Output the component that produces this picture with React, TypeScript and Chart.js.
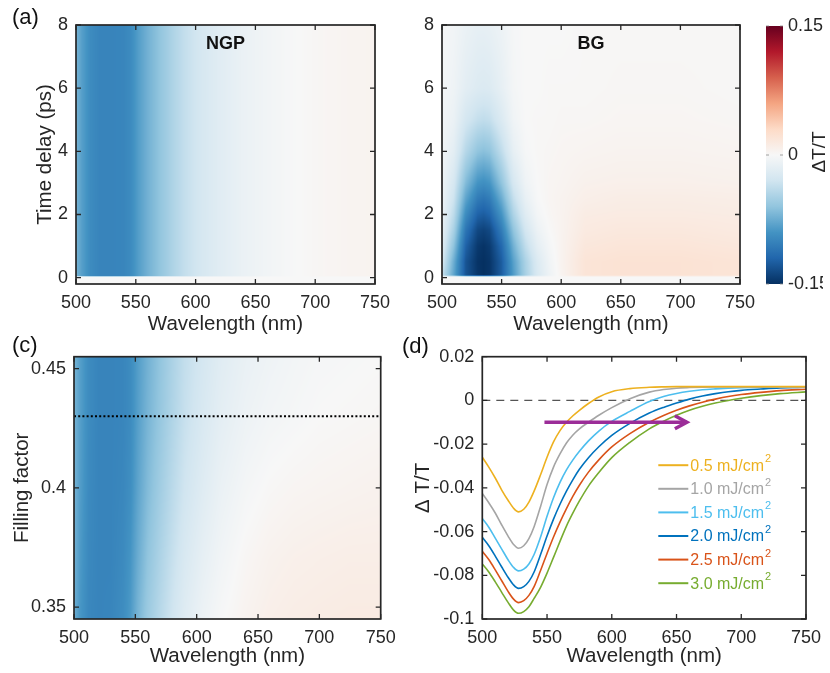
import React, { useEffect, useRef } from 'react';
import { Chart, registerables } from 'chart.js';

Chart.register(...registerables);

const W = 830;
const H = 673;
const FONT = "'Liberation Sans', Arial, Helvetica, sans-serif";
const INK = '#262626';

// ---------- colour scale (ΔT/T) ----------
const CMAP_COLORS = ['#053061', '#2166ac', '#4393c3', '#92c5de', '#d1e5f0', '#f7f7f7', '#fddbc7', '#f4a582', '#d6604d', '#b2182b', '#67001f'];
const C_MIN = -0.15;
const C_MAX = 0.15;
const CBAR_TICKS = [-0.15, 0, 0.15];

// ---------- (a) NGP map ----------
const NGP_WL = [500, 505, 512, 520, 530, 540, 546, 552, 560, 570, 580, 590, 605, 620, 640, 660, 680, 700, 725, 750];
const NGP_T = [0.02, 0.06, 8];
const NGP_EARLY = [0, 0, 0, 0, 0, 0, 0, 0, 0, 0, 0, 0, 0, 0, 0, 0, 0, 0, 0, 0];
const NGP_PROFILE = [-0.07, -0.083, -0.095, -0.1, -0.1, -0.099, -0.095, -0.084, -0.072, -0.06, -0.048, -0.037, -0.026, -0.018, -0.01, -0.005, -0.001, 0.002, 0.004, 0.005];
const NGP_ROWS = [NGP_EARLY, NGP_PROFILE, NGP_PROFILE];

// ---------- (b) BG map ----------
const BG_WL = [500, 510, 520, 530, 535, 540, 550, 560, 570, 580, 590, 600, 620, 650, 700, 750];
const BG_T = [0.02, 0.08, 0.5, 1, 1.5, 2, 2.5, 3, 4, 5, 6, 8];
const BG_ROWS = [
  [0, 0, 0, 0, 0, 0, 0, 0, 0, 0, 0, 0, 0, 0, 0, 0],
  [-0.035, -0.08, -0.13, -0.147, -0.15, -0.147, -0.125, -0.085, -0.05, -0.024, -0.008, 0.004, 0.02, 0.022, 0.022, 0.02],
  [-0.025, -0.075, -0.13, -0.148, -0.15, -0.147, -0.125, -0.082, -0.048, -0.022, -0.006, 0.005, 0.02, 0.022, 0.022, 0.02],
  [-0.018, -0.062, -0.122, -0.145, -0.148, -0.144, -0.118, -0.072, -0.038, -0.015, -0.003, 0.005, 0.017, 0.019, 0.019, 0.017],
  [-0.013, -0.05, -0.11, -0.137, -0.14, -0.136, -0.105, -0.06, -0.028, -0.009, 0.0, 0.005, 0.014, 0.016, 0.016, 0.014],
  [-0.01, -0.04, -0.095, -0.122, -0.125, -0.12, -0.09, -0.047, -0.019, -0.004, 0.002, 0.005, 0.012, 0.013, 0.013, 0.012],
  [-0.008, -0.032, -0.08, -0.106, -0.11, -0.105, -0.075, -0.036, -0.012, -0.001, 0.003, 0.005, 0.009, 0.011, 0.011, 0.01],
  [-0.007, -0.026, -0.066, -0.09, -0.093, -0.089, -0.06, -0.026, -0.007, 0.0, 0.003, 0.004, 0.007, 0.008, 0.008, 0.007],
  [-0.005, -0.016, -0.043, -0.06, -0.063, -0.06, -0.038, -0.013, -0.002, 0.001, 0.002, 0.003, 0.004, 0.005, 0.005, 0.004],
  [-0.004, -0.01, -0.027, -0.036, -0.038, -0.036, -0.022, -0.006, 0.0, 0.001, 0.001, 0.002, 0.002, 0.003, 0.003, 0.002],
  [-0.003, -0.007, -0.016, -0.021, -0.022, -0.021, -0.013, -0.003, 0.0, 0.0, 0.001, 0.001, 0.001, 0.002, 0.002, 0.001],
  [-0.002, -0.005, -0.01, -0.013, -0.013, -0.012, -0.008, -0.002, 0.0, 0.0, 0.0, 0.0, 0.001, 0.001, 0.001, 0.001],
];

// ---------- (c) filling-factor map ----------
const FF_WL = [500, 505, 512, 520, 530, 540, 546, 552, 560, 570, 580, 590, 605, 620, 640, 660, 680, 700, 725, 750];
const FF_LEVELS = [0.345, 0.37, 0.4, 0.43, 0.455];
const FF_ROWS = [
  [-0.074, -0.088, -0.098, -0.1, -0.099, -0.094, -0.086, -0.07, -0.055, -0.042, -0.03, -0.019, -0.008, -0.001, 0.005, 0.009, 0.011, 0.012, 0.013, 0.013],
  [-0.072, -0.086, -0.097, -0.1, -0.1, -0.096, -0.089, -0.075, -0.06, -0.047, -0.035, -0.024, -0.013, -0.005, 0.002, 0.006, 0.008, 0.009, 0.01, 0.01],
  [-0.07, -0.084, -0.096, -0.1, -0.1, -0.098, -0.093, -0.08, -0.066, -0.053, -0.041, -0.03, -0.019, -0.01, -0.003, 0.001, 0.003, 0.004, 0.005, 0.006],
  [-0.07, -0.083, -0.095, -0.1, -0.1, -0.099, -0.095, -0.083, -0.07, -0.058, -0.046, -0.035, -0.024, -0.015, -0.008, -0.004, -0.002, 0.0, 0.001, 0.002],
  [-0.07, -0.083, -0.095, -0.1, -0.1, -0.099, -0.095, -0.084, -0.072, -0.06, -0.048, -0.037, -0.027, -0.018, -0.011, -0.007, -0.004, -0.002, -0.001, 0.0],
];
const FF_MARK = 0.43;

// ---------- (d) spectra ----------
const D_WL = [500, 505, 510, 515, 520, 524, 528, 532, 536, 540, 545, 550, 555, 560, 565, 570, 575, 582, 590, 600, 614, 629, 640, 650, 660, 670, 680, 690, 700, 715, 730, 750];
const DT_05 = [-0.026, -0.0305, -0.0355, -0.041, -0.0458, -0.0492, -0.051, -0.0498, -0.0465, -0.0415, -0.034, -0.026, -0.019, -0.0138, -0.01, -0.007, -0.0045, -0.0014, 0.0016, 0.004, 0.0054, 0.006, 0.0062, 0.0063, 0.0063, 0.0063, 0.0063, 0.0063, 0.0063, 0.0063, 0.0063, 0.0063];
const DT_10 = [-0.0426, -0.0468, -0.0515, -0.057, -0.0622, -0.0658, -0.0676, -0.0665, -0.0632, -0.0578, -0.0485, -0.0385, -0.0305, -0.0245, -0.0195, -0.0158, -0.013, -0.01, -0.0068, -0.0033, 0.0008, 0.0038, 0.005, 0.0056, 0.0059, 0.0061, 0.0062, 0.0062, 0.0062, 0.0062, 0.0062, 0.0062];
const DT_15 = [-0.054, -0.058, -0.063, -0.068, -0.073, -0.0763, -0.078, -0.0772, -0.0748, -0.0705, -0.0625, -0.053, -0.0445, -0.0375, -0.0318, -0.0272, -0.0233, -0.0185, -0.014, -0.0096, -0.005, -0.0005, 0.0018, 0.0032, 0.0042, 0.0049, 0.0053, 0.0056, 0.0058, 0.006, 0.0061, 0.0062];
const DT_20 = [-0.0626, -0.0665, -0.0712, -0.0762, -0.081, -0.0843, -0.086, -0.0852, -0.0828, -0.0785, -0.0705, -0.062, -0.0543, -0.0475, -0.0415, -0.0362, -0.0315, -0.0262, -0.0212, -0.016, -0.0105, -0.0058, -0.0032, -0.0012, 0.0006, 0.002, 0.0031, 0.004, 0.0046, 0.0052, 0.0057, 0.006];
const DT_25 = [-0.069, -0.0728, -0.0775, -0.0825, -0.0875, -0.0908, -0.0925, -0.0916, -0.0892, -0.0852, -0.0778, -0.07, -0.0625, -0.0557, -0.0495, -0.0438, -0.0388, -0.0328, -0.0272, -0.0213, -0.0152, -0.01, -0.0069, -0.0045, -0.0025, -0.0008, 0.0006, 0.0018, 0.0027, 0.0037, 0.0045, 0.0051];
const DT_30 = [-0.0748, -0.0785, -0.083, -0.0878, -0.0925, -0.0958, -0.0974, -0.0966, -0.0944, -0.0906, -0.0855, -0.079, -0.0718, -0.0645, -0.0575, -0.0515, -0.046, -0.0392, -0.033, -0.0262, -0.0192, -0.013, -0.0095, -0.0068, -0.0045, -0.0027, -0.0012, 0.0, 0.001, 0.0022, 0.0031, 0.0039];
const D_SERIES = [DT_05, DT_10, DT_15, DT_20, DT_25, DT_30];
const D_LABELS = ['0.5 mJ/cm²', '1.0 mJ/cm²', '1.5 mJ/cm²', '2.0 mJ/cm²', '2.5 mJ/cm²', '3.0 mJ/cm²'];
const D_COLORS = ['#EDB120', '#A5A5A5', '#4DBEEE', '#0072BD', '#D95319', '#77AC30'];
const ARROW_FROM = 548;
const ARROW_TO = 658;
const ARROW_LEVEL = -0.01;

// ---------- helpers ----------
const hexRgb = (c: string) => {
  const n = parseInt(c.slice(1), 16);
  return [(n >> 16) & 255, (n >> 8) & 255, n & 255];
};
const CMAP_RGB = CMAP_COLORS.map(hexRgb);
function cmap(v: number) {
  let t = (v - C_MIN) / (C_MAX - C_MIN);
  t = Math.max(0, Math.min(1, t));
  const f = t * (CMAP_RGB.length - 1);
  const i = Math.min(CMAP_RGB.length - 2, Math.floor(f));
  const u = f - i;
  const a = CMAP_RGB[i];
  const b = CMAP_RGB[i + 1];
  return [a[0] + (b[0] - a[0]) * u, a[1] + (b[1] - a[1]) * u, a[2] + (b[2] - a[2]) * u];
}
function locate(arr: number[], v: number): [number, number] {
  const n = arr.length;
  if (v <= arr[0]) return [0, 0];
  if (v >= arr[n - 1]) return [n - 2, 1];
  let i = 0;
  while (i < n - 2 && v >= arr[i + 1]) i++;
  return [i, (v - arr[i]) / (arr[i + 1] - arr[i])];
}
function sample(xs: number[], ys: number[], rows: number[][], x: number, y: number) {
  const [i, u] = locate(xs, x);
  const [j, w] = locate(ys, y);
  const a = rows[j][i] * (1 - u) + rows[j][i + 1] * u;
  const b = rows[j + 1][i] * (1 - u) + rows[j + 1][i + 1] * u;
  return a * (1 - w) + b * w;
}

const heatmap = (xs: number[], ys: number[], rows: number[][]) => ({
  id: 'heatmap',
  beforeDatasetsDraw(chart: any) {
    const { ctx, chartArea: a, scales } = chart;
    const w = Math.round(a.right - a.left);
    const h = Math.round(a.bottom - a.top);
    const off = document.createElement('canvas');
    off.width = w;
    off.height = h;
    const oc = off.getContext('2d')!;
    const img = oc.createImageData(w, h);
    const xv: number[] = [];
    for (let i = 0; i < w; i++) xv.push(scales.x.getValueForPixel(a.left + ((i + 0.5) * (a.right - a.left)) / w));
    for (let j = 0; j < h; j++) {
      const yv = scales.y.getValueForPixel(a.top + ((j + 0.5) * (a.bottom - a.top)) / h);
      for (let i = 0; i < w; i++) {
        const c = cmap(sample(xs, ys, rows, xv[i], yv));
        const k = (j * w + i) * 4;
        img.data[k] = c[0];
        img.data[k + 1] = c[1];
        img.data[k + 2] = c[2];
        img.data[k + 3] = 255;
      }
    }
    oc.putImageData(img, 0, 0);
    ctx.drawImage(off, a.left, a.top, a.right - a.left, a.bottom - a.top);
  },
});

const frame = {
  id: 'frame',
  afterDatasetsDraw(chart: any) {
    const { ctx, chartArea: a, scales } = chart;
    ctx.save();
    ctx.strokeStyle = INK;
    ctx.lineWidth = 1.3;
    const tl = 5;
    ctx.beginPath();
    scales.x.ticks.forEach((t: any) => {
      const p = scales.x.getPixelForValue(t.value);
      ctx.moveTo(p, a.bottom);
      ctx.lineTo(p, a.bottom - tl);
      ctx.moveTo(p, a.top);
      ctx.lineTo(p, a.top + tl);
    });
    scales.y.ticks.forEach((t: any) => {
      const p = scales.y.getPixelForValue(t.value);
      ctx.moveTo(a.left, p);
      ctx.lineTo(a.left + tl, p);
      ctx.moveTo(a.right, p);
      ctx.lineTo(a.right - tl, p);
    });
    ctx.stroke();
    ctx.lineWidth = 1.7;
    ctx.strokeRect(a.left, a.top, a.right - a.left, a.bottom - a.top);
    ctx.restore();
  },
};

const fmt = (v: any) => String(+Number(v).toFixed(3));

function xScale(title: string, height: number) {
  return {
    type: 'linear',
    min: 500,
    max: 750,
    ticks: { stepSize: 50, font: { size: 18, family: FONT }, color: INK, padding: 8, maxRotation: 0, callback: fmt },
    grid: { display: false, drawTicks: false },
    border: { display: false },
    title: { display: true, text: title, font: { size: 20.5, family: FONT }, color: INK, padding: { top: 0, bottom: 0 } },
    afterFit: (s: any) => {
      s.height = height;
    },
  };
}
function yScale(min: number, max: number, step: number, title: string | null, width: number, padTop = 2) {
  return {
    type: 'linear',
    min,
    max,
    ticks: { stepSize: step, includeBounds: false, font: { size: 18, family: FONT }, color: INK, padding: 8, callback: fmt },
    grid: { display: false, drawTicks: false },
    border: { display: false },
    title: title
      ? { display: true, text: title, font: { size: 20.5, family: FONT }, color: INK, padding: { top: padTop, bottom: 0 } }
      : { display: false },
    afterFit: (s: any) => {
      s.width = width;
    },
  };
}
const baseOpts = (padding: any, scales: any) => ({
  responsive: false,
  animation: false,
  devicePixelRatio: 1,
  events: [],
  layout: { padding },
  plugins: { legend: { display: false }, tooltip: { enabled: false } },
  scales,
});

const panelText = {
  id: 'panelText',
  afterDraw(chart: any) {
    const { ctx } = chart;
    ctx.save();
    ctx.fillStyle = '#111';
    ctx.textBaseline = 'middle';
    ctx.textAlign = 'left';
    ctx.font = `22px ${FONT}`;
    ctx.fillText('(a)', 12, 18);
    ctx.fillText('(c)', 12, 346);
    ctx.fillText('(d)', 402, 347);
    ctx.restore();
  },
};
const mapTitle = (text: string) => ({
  id: 'mapTitle',
  afterDraw(chart: any) {
    const { ctx, chartArea: a } = chart;
    ctx.save();
    ctx.fillStyle = '#111';
    ctx.font = `bold 18px ${FONT}`;
    ctx.textAlign = 'center';
    ctx.textBaseline = 'middle';
    ctx.fillText(text, (a.left + a.right) / 2, a.top + 19);
    ctx.restore();
  },
});

const colorbar = {
  id: 'colorbar',
  beforeDatasetsDraw(chart: any) {
    const { ctx, chartArea: a, scales } = chart;
    const y0 = scales.y.getPixelForValue(C_MIN);
    const y1 = scales.y.getPixelForValue(C_MAX);
    const g = ctx.createLinearGradient(0, y0, 0, y1);
    CMAP_COLORS.forEach((c, i) => g.addColorStop(i / (CMAP_COLORS.length - 1), c));
    ctx.save();
    ctx.fillStyle = g;
    ctx.fillRect(a.left, a.top, a.right - a.left, a.bottom - a.top);
    ctx.strokeStyle = '#8a8a8a';
    ctx.lineWidth = 0.8;
    ctx.beginPath();
    scales.y.ticks.forEach((t: any) => {
      const p = scales.y.getPixelForValue(t.value);
      ctx.moveTo(a.right, p);
      ctx.lineTo(a.right - 3, p);
      ctx.moveTo(a.left, p);
      ctx.lineTo(a.left + 3, p);
    });
    ctx.stroke();
    ctx.translate(820, (a.top + a.bottom) / 2 - 3);
    ctx.rotate(-Math.PI / 2);
    ctx.fillStyle = INK;
    ctx.font = `19px ${FONT}`;
    ctx.textAlign = 'center';
    ctx.textBaseline = 'middle';
    ctx.fillText('ΔT/T', 0, 0);
    ctx.restore();
  },
};

const arrowHead = {
  id: 'arrowHead',
  afterDatasetsDraw(chart: any) {
    const { ctx, scales } = chart;
    const tx = scales.x.getPixelForValue(ARROW_TO);
    const ty = scales.y.getPixelForValue(ARROW_LEVEL);
    ctx.save();
    ctx.strokeStyle = '#9b2d98';
    ctx.lineWidth = 3.5;
    ctx.lineJoin = 'miter';
    ctx.beginPath();
    ctx.moveTo(tx - 12, ty - 6.5);
    ctx.lineTo(tx, ty);
    ctx.lineTo(tx - 12, ty + 6.5);
    ctx.stroke();
    ctx.restore();
  },
};

const legendD = {
  id: 'legendD',
  afterDraw(chart: any) {
    const { ctx, chartArea: a } = chart;
    const x0 = a.left + 176;
    const y0 = a.top + 108.5;
    const step = 23.6;
    ctx.save();
    chart.data.datasets
      .filter((d: any) => d.label)
      .forEach((d: any, k: number) => {
        const y = y0 + k * step;
        ctx.strokeStyle = d.borderColor;
        ctx.lineWidth = 2;
        ctx.beginPath();
        ctx.moveTo(x0, y);
        ctx.lineTo(x0 + 30, y);
        ctx.stroke();
        const [base] = d.label.split('²');
        ctx.fillStyle = d.borderColor;
        ctx.textBaseline = 'middle';
        ctx.textAlign = 'left';
        ctx.font = `16px ${FONT}`;
        ctx.fillText(base, x0 + 32, y + 1);
        const wBase = ctx.measureText(base).width;
        ctx.font = `11px ${FONT}`;
        ctx.fillText('2', x0 + 33 + wBase, y - 6);
      });
    ctx.restore();
  },
};

function configs(): any[] {
  const cfgA = {
    type: 'scatter',
    data: { datasets: [] },
    options: baseOpts(
      { left: 30, top: 25, right: 455, bottom: 336 },
      { x: xScale('Wavelength (nm)', 53), y: yScale(-0.2, 8, 2, 'Time delay (ps)', 46, 3) }
    ),
    plugins: [heatmap(NGP_WL, NGP_T, NGP_ROWS), frame, mapTitle('NGP'), panelText],
  };
  const cfgB = {
    type: 'scatter',
    data: { datasets: [] },
    options: baseOpts(
      { left: 402, top: 25, right: 90, bottom: 336 },
      { x: xScale('Wavelength (nm)', 53), y: yScale(-0.2, 8, 2, null, 40) }
    ),
    plugins: [heatmap(BG_WL, BG_T, BG_ROWS), frame, mapTitle('BG')],
  };
  const cfgCbar = {
    type: 'scatter',
    data: { datasets: [] },
    options: baseOpts(
      { left: 766, top: 26, right: 7, bottom: 389 },
      {
        x: { type: 'linear', display: false, min: 0, max: 1 },
        y: {
          type: 'linear',
          position: 'right',
          min: C_MIN,
          max: C_MAX,
          afterBuildTicks: (s: any) => {
            s.ticks = CBAR_TICKS.map((v) => ({ value: v }));
          },
          ticks: { font: { size: 18, family: FONT }, color: INK, padding: 5, callback: fmt },
          grid: { display: false, drawTicks: false },
          border: { display: false },
          afterFit: (s: any) => {
            s.width = 40;
          },
        },
      }
    ),
    plugins: [colorbar],
  };
  const cfgC = {
    type: 'scatter',
    data: {
      datasets: [
        {
          data: [
            { x: 500, y: FF_MARK },
            { x: 750, y: FF_MARK },
          ],
          showLine: true,
          pointRadius: 0,
          borderColor: '#000',
          borderWidth: 2,
          borderDash: [2, 2.2],
        },
      ],
    },
    options: baseOpts(
      { left: 8, top: 356.7, right: 449.3, bottom: 4 },
      { x: xScale('Wavelength (nm)', 50), y: yScale(0.345, 0.455, 0.05, 'Filling factor', 66, 2) }
    ),
    plugins: [heatmap(FF_WL, FF_LEVELS, FF_ROWS), frame],
  };
  const curves = D_SERIES.map((s, k) => ({
    label: D_LABELS[k],
    data: D_WL.map((w, i) => ({ x: w, y: s[i] })),
    showLine: true,
    pointRadius: 0,
    borderColor: D_COLORS[k],
    borderWidth: 1.6,
    cubicInterpolationMode: 'monotone',
    order: k,
  }));
  const cfgD = {
    type: 'scatter',
    data: {
      datasets: [
        ...curves,
        {
          data: [
            { x: 500, y: 0 },
            { x: 750, y: 0 },
          ],
          showLine: true,
          pointRadius: 0,
          borderColor: '#555',
          borderWidth: 1.3,
          borderDash: [8, 6],
          order: 20,
        },
        {
          data: [
            { x: ARROW_FROM, y: ARROW_LEVEL },
            { x: ARROW_TO, y: ARROW_LEVEL },
          ],
          showLine: true,
          pointRadius: 0,
          borderColor: '#9b2d98',
          borderWidth: 3.5,
          order: -1,
        },
      ],
    },
    options: baseOpts(
      { left: 409, top: 356.7, right: 24, bottom: 4 },
      { x: xScale('Wavelength (nm)', 50), y: yScale(-0.1, 0.02, 0.02, 'Δ T/T', 73.3, 2) }
    ),
    plugins: [frame, arrowHead, legendD],
  };
  return [cfgA, cfgB, cfgCbar, cfgC, cfgD];
}

export default function App() {
  const refs = useRef<(HTMLCanvasElement | null)[]>([]);
  useEffect(() => {
    const charts = configs().map((cfg, i) => new Chart(refs.current[i] as HTMLCanvasElement, cfg));
    return () => charts.forEach((c) => c.destroy());
  }, []);
  return (
    <div style={{ position: 'absolute', left: 0, top: 0, width: W, height: H, background: '#fff', overflow: 'hidden' }}>
      {[0, 1, 2, 3, 4].map((i) => (
        <canvas
          key={i}
          ref={(el) => {
            refs.current[i] = el;
          }}
          width={W}
          height={H}
          style={{ position: 'absolute', left: 0, top: 0, width: W, height: H }}
        />
      ))}
    </div>
  );
}
